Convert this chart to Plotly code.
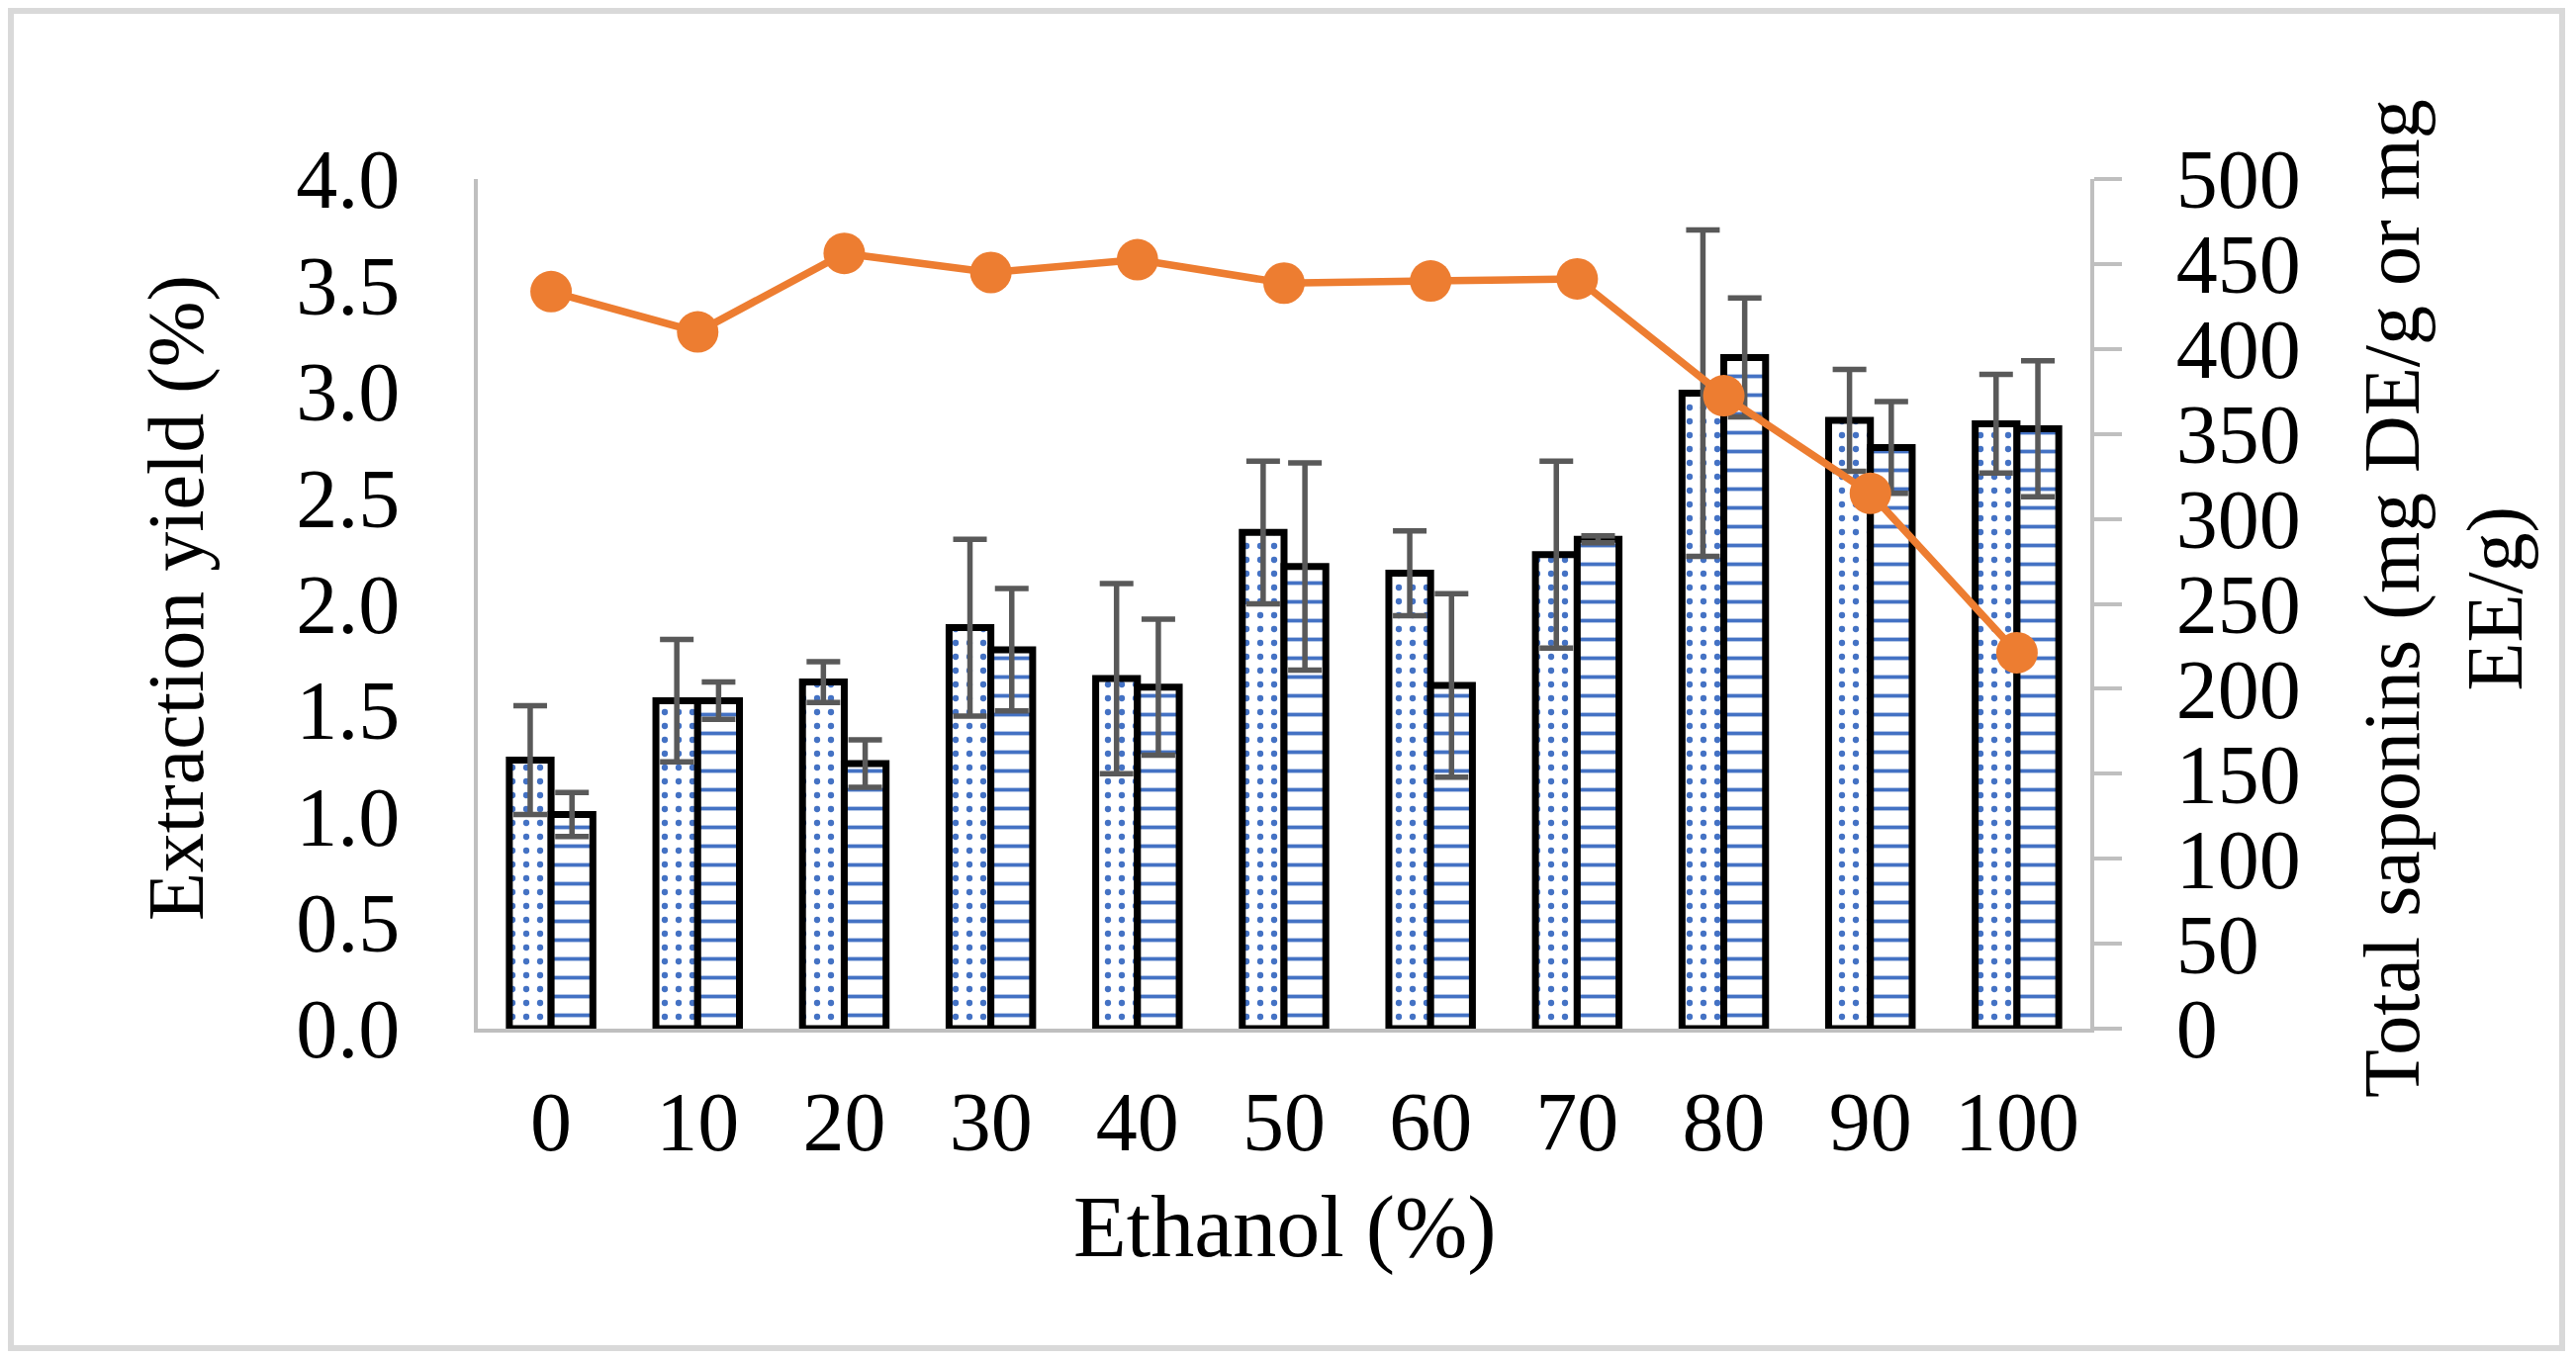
import plotly.graph_objects as go

# ---- data ----
ethanol = ["0", "10", "20", "30", "40", "50", "60", "70", "80", "90", "100"]
saponin_de = [158, 193, 204, 236, 206, 292, 268, 279, 374, 358, 356]
saponin_de_err = [32, 36, 12, 52, 56, 42, 25, 55, 96, 30, 29]
saponin_ee = [126, 193, 156, 223, 201, 272, 202, 288, 395, 342, 353]
saponin_ee_err = [13, 11, 14, 36, 40, 61, 54, 2, 35, 27, 40]
extraction_yield = [3.47, 3.28, 3.65, 3.56, 3.62, 3.51, 3.52, 3.53, 2.98, 2.52, 1.77]

left_ticks = [0, 0.5, 1.0, 1.5, 2.0, 2.5, 3.0, 3.5, 4.0]
right_ticks = [0, 50, 100, 150, 200, 250, 300, 350, 400, 450, 500]

BLUE = "#4472C4"
ORANGE = "#ED7D31"
GREY_AX = "#BFBFBF"
ERR = "#595959"
FONT = "Liberation Serif"

W, H = 2604, 1374
L, R, T, B = 483, 2113, 181, 1040

fig = go.Figure()

fig.add_trace(go.Bar(
    x=ethanol, y=saponin_de, name="DE", yaxis="y",
    marker=dict(color="white", line=dict(color="black", width=7),
                pattern=dict(shape=".", fgcolor=BLUE, bgcolor="white",
                             size=14, solidity=0.16, fillmode="replace")),
    error_y=dict(type="data", array=saponin_de_err, visible=True,
                 color=ERR, thickness=5.5, width=17),
))
fig.add_trace(go.Bar(
    x=ethanol, y=saponin_ee, name="EE", yaxis="y",
    marker=dict(color="white", line=dict(color="black", width=7),
                pattern=dict(shape="-", fgcolor=BLUE, bgcolor="white",
                             size=19, solidity=0.2, fillmode="replace")),
    error_y=dict(type="data", array=saponin_ee_err, visible=True,
                 color=ERR, thickness=5.5, width=17),
))
fig.add_trace(go.Scatter(
    x=ethanol, y=extraction_yield, name="Extraction yield", yaxis="y2",
    mode="lines+markers",
    line=dict(color=ORANGE, width=7.5),
    marker=dict(color=ORANGE, size=42),
))

def px_x(p):
    return (p - L) / (R - L)

def px_y(p):
    return (B - p) / (B - T)

fig.update_layout(
    width=W, height=H,
    margin=dict(l=L, r=W - R, t=T, b=H - B),
    paper_bgcolor="white", plot_bgcolor="white",
    barmode="group", bargap=0.43, bargroupgap=0,
    showlegend=False,
    font=dict(family=FONT, size=84, color="black"),
    xaxis=dict(
        type="category", range=[-0.5, 10.5], showgrid=False, zeroline=False,
        showline=True, linecolor=GREY_AX, linewidth=4,
        ticks="outside", ticklen=18, tickcolor="rgba(0,0,0,0)",
        tickfont=dict(family=FONT, size=84, color="black"),
    ),
    yaxis=dict(
        side="right", range=[0, 500], tickvals=right_ticks,
        showgrid=False, zeroline=False,
        showline=True, linecolor=GREY_AX, linewidth=4,
        ticks="outside", ticklen=28, tickwidth=4, tickcolor=GREY_AX,
        ticklabelstandoff=38,
        tickfont=dict(family=FONT, size=84, color="black"),
    ),
    yaxis2=dict(
        side="left", overlaying="y", range=[0, 4], tickvals=left_ticks,
        tickformat=".1f",
        showgrid=False, zeroline=False,
        showline=True, linecolor=GREY_AX, linewidth=4,
        ticks="outside", ticklen=58, tickcolor="rgba(0,0,0,0)",
        tickfont=dict(family=FONT, size=84, color="black"),
    ),
    annotations=[
        dict(text="Extraction yield (%)", xref="paper", yref="paper",
             x=px_x(178), y=px_y(605), textangle=-90, showarrow=False,
             xanchor="center", yanchor="middle",
             font=dict(family=FONT, size=80, color="black")),
        dict(text="Total saponins (mg DE/g or mg<br>EE/g)", xref="paper", yref="paper",
             x=px_x(2470), y=px_y(605), textangle=-90, showarrow=False,
             xanchor="center", yanchor="middle",
             font=dict(family=FONT, size=80, color="black")),
        dict(text="Ethanol (%)", xref="paper", yref="paper",
             x=px_x(1299), y=px_y(1240), showarrow=False,
             xanchor="center", yanchor="middle",
             font=dict(family=FONT, size=88, color="black")),
    ],
    shapes=[
        dict(type="rect", xref="paper", yref="paper",
             x0=px_x(11), x1=px_x(2590), y0=px_y(1363), y1=px_y(11),
             line=dict(color="#D9D9D9", width=6), fillcolor="rgba(0,0,0,0)",
             layer="below"),
    ],
)

fig.write_html("out.html", config={"displayModeBar": False},
               post_script="document.body.style.margin='0px';")
